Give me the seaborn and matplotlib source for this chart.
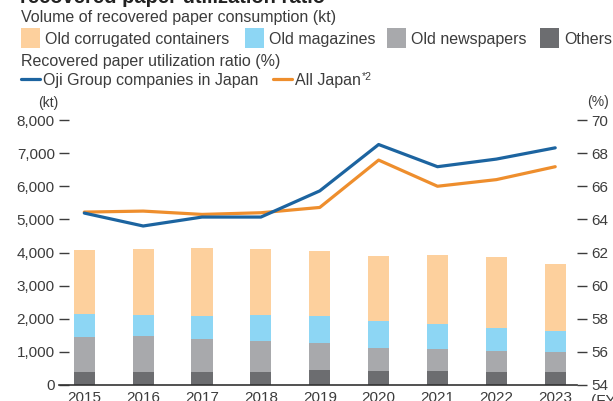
import numpy as np
import pandas as pd
import matplotlib
matplotlib.use("Agg")
import matplotlib.pyplot as plt
from matplotlib.patches import Rectangle
from matplotlib.lines import Line2D
import seaborn as sns

# Fiscal years
years = ["2015", "2016", "2017", "2018", "2019", "2020", "2021", "2022", "2023"]

# Recovered paper consumption by grade (kt)
others = [390, 390, 390, 390, 450, 420, 420, 390, 390]
old_newspapers = [1060, 1090, 1000, 940, 820, 700, 670, 640, 610]
old_magazines = [690, 630, 690, 780, 810, 810, 750, 690, 630]
old_corrugated = [1950, 2010, 2070, 2010, 1980, 1950, 2070, 2130, 2010]

# Recovered paper utilization ratio (%)
oji_ratio = [64.38, 63.60, 64.14, 64.14, 65.72, 68.52, 67.18, 67.64, 68.32]
japan_ratio = [64.44, 64.50, 64.30, 64.40, 64.72, 67.58, 66.00, 66.40, 67.18]

left_ticks = [0, 1000, 2000, 3000, 4000, 5000, 6000, 7000, 8000]
right_ticks = [54, 56, 58, 60, 62, 64, 66, 68, 70]

C_CORR = "#FDD09D"
C_MAG = "#8DD6F4"
C_NEWS = "#A8A9AC"
C_OTH = "#6C6D70"
C_BLUE = "#1C64A0"
C_ORANGE = "#EE8E2D"
C_TXT = "#3C3C3C"

sns.set_theme(style="white")
plt.rcParams["font.family"] = ["Liberation Sans", "DejaVu Sans"]
plt.rcParams["text.color"] = C_TXT

NUM_FONT = ["Liberation Sans Narrow", "Liberation Sans", "DejaVu Sans"]
LEG_SIZE = 11.5

W, H = 613, 401


def fx(px):
    return px / W


def fy(py):
    return 1 - py / H


fig = plt.figure(figsize=(W / 100, H / 100), dpi=100)
fig.patch.set_facecolor("white")
ax = fig.add_axes([fx(59), fy(385), (577 - 59) / W, (385 - 120) / H])

df = pd.DataFrame({
    "year": years,
    "others": others,
    "old_newspapers": old_newspapers,
    "old_magazines": old_magazines,
    "old_corrugated": old_corrugated,
})
df["top_others"] = df["others"]
df["top_news"] = df["top_others"] + df["old_newspapers"]
df["top_mag"] = df["top_news"] + df["old_magazines"]
df["top_corr"] = df["top_mag"] + df["old_corrugated"]

# Stacked bars: draw the cumulative tops from the tallest layer down
for col, color in [("top_corr", C_CORR), ("top_mag", C_MAG),
                   ("top_news", C_NEWS), ("top_others", C_OTH)]:
    sns.barplot(data=df, x="year", y=col, color=color, width=0.36,
                saturation=1, linewidth=0, errorbar=None, ax=ax)

ax.set_ylim(0, 8000)
ax.set_yticks(left_ticks)
ax.set_yticklabels([f"{v:,}" for v in left_ticks], family=NUM_FONT,
                   fontsize=11, color=C_TXT)
ax.set_xticks(range(len(years)))
ax.set_xticklabels(years, family=NUM_FONT, fontsize=11, color=C_TXT)
ax.set_xlabel("")
ax.set_ylabel("")
for side in ["left", "right", "top"]:
    ax.spines[side].set_visible(False)
ax.spines["bottom"].set_color("#333333")
ax.spines["bottom"].set_linewidth(1.2)
ax.tick_params(axis="y", left=True, direction="in", length=7, width=1,
               color=C_TXT, pad=3)
ax.tick_params(axis="x", bottom=False, length=0, pad=4.5)
ax.grid(False)

# Utilization ratio lines on the secondary axis
ax2 = ax.twinx()
xpos = np.arange(len(years))
lines_df = pd.DataFrame({"x": xpos, "oji": oji_ratio, "japan": japan_ratio})
sns.lineplot(data=lines_df, x="x", y="japan", color=C_ORANGE, lw=2.3, ax=ax2)
sns.lineplot(data=lines_df, x="x", y="oji", color=C_BLUE, lw=2.3, ax=ax2)
ax2.set_ylim(54, 70)
ax2.set_yticks(right_ticks)
ax2.set_yticklabels([str(v) for v in right_ticks], family=NUM_FONT,
                    fontsize=11, color=C_TXT)
ax2.set_ylabel("")
ax2.set_xlabel("")
for side in ["left", "right", "top", "bottom"]:
    ax2.spines[side].set_visible(False)
ax2.tick_params(axis="y", right=True, direction="out", length=7, width=1,
                color=C_TXT, pad=3)
ax2.grid(False)
ax.set_xlim(-0.43, 8.37)

# Header and legend
fig.text(fx(20), fy(3), "recovered paper utilization ratio", fontsize=14.5,
         fontweight="bold", va="baseline", ha="left", color="#222222")
fig.text(fx(21), fy(21.7), "Volume of recovered paper consumption (kt)",
         fontsize=LEG_SIZE, va="baseline", ha="left")

legend_items = [(21, C_CORR, "Old corrugated containers"),
                (245, C_MAG, "Old magazines"),
                (387, C_NEWS, "Old newspapers"),
                (540, C_OTH, "Others")]
for x0, color, label in legend_items:
    fig.add_artist(Rectangle((fx(x0), fy(47.5)), 19 / W, 19 / H,
                             transform=fig.transFigure, facecolor=color,
                             edgecolor="none"))
    fig.text(fx(x0 + 24), fy(44.3), label, fontsize=LEG_SIZE, va="baseline",
             ha="left")

fig.text(fx(21), fy(65.7), "Recovered paper utilization ratio (%)",
         fontsize=LEG_SIZE, va="baseline", ha="left")

last = None
for x0, color, label in [(21, C_BLUE, "Oji Group companies in Japan"),
                         (273, C_ORANGE, "All Japan")]:
    fig.add_artist(Line2D([fx(x0), fx(x0 + 19)], [fy(79), fy(79)],
                          transform=fig.transFigure, color=color, lw=2.3))
    last = fig.text(fx(x0 + 22), fy(85), label, fontsize=LEG_SIZE,
                    va="baseline", ha="left")

# Footnote marker placed right after the "All Japan" label
renderer = fig.canvas.get_renderer()
bb = last.get_window_extent(renderer=renderer)
fig.text((bb.x1 + 1) / W, fy(80), "*2", fontsize=7.5, va="baseline",
         ha="left")

fig.text(fx(38), fy(103), "(kt)", fontsize=10, va="center", ha="left")
fig.text(fx(609), fy(102), "(%)", fontsize=10, va="center", ha="right")
fig.text(fx(591), fy(393.5), "(FY)", family=NUM_FONT, fontsize=11, va="top",
         ha="left")

fig.savefig("out.png", dpi=100)
